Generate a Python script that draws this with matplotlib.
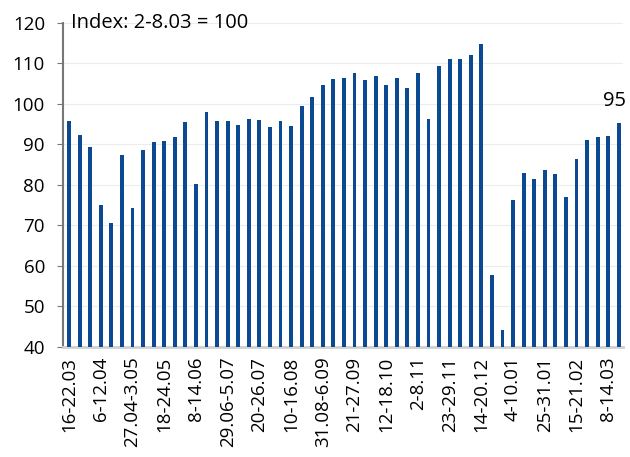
import matplotlib.pyplot as plt
import numpy as np

plt.rcParams['font.family'] = ['Open Sans', 'DejaVu Sans']

# weekly index, 2-8.03 = 100
weeks = [
    "16-22.03", "23-29.03", "30.03-5.04", "6-12.04", "13-19.04", "20-26.04",
    "27.04-3.05", "4-10.05", "11-17.05", "18-24.05", "25-31.05", "1-7.06",
    "8-14.06", "15-21.06", "22-28.06", "29.06-5.07", "6-12.07", "13-19.07",
    "20-26.07", "27.07-2.08", "3-9.08", "10-16.08", "17-23.08", "24-30.08",
    "31.08-6.09", "7-13.09", "14-20.09", "21-27.09", "28.09-4.10", "5-11.10",
    "12-18.10", "19-25.10", "26.10-1.11", "2-8.11", "9-15.11", "16-22.11",
    "23-29.11", "30.11-6.12", "7-13.12", "14-20.12", "21-27.12", "28.12-3.01",
    "4-10.01", "11-17.01", "18-24.01", "25-31.01", "1-7.02", "8-14.02",
    "15-21.02", "22-28.02", "1-7.03", "8-14.03", "15-21.03",
]
index_values = [
    95.7, 92.4, 89.3, 75.1, 70.7, 87.5, 74.2, 88.7, 90.6, 90.9,
    91.8, 95.5, 80.2, 97.9, 95.9, 95.9, 94.8, 96.3, 96.1, 94.4,
    95.9, 94.6, 99.5, 101.8, 104.6, 106.1, 106.5, 107.7, 105.8, 106.8,
    104.7, 106.4, 103.9, 107.7, 96.2, 109.3, 111.1, 111.1, 112.2, 114.7,
    57.7, 44.3, 76.2, 83.0, 81.5, 83.7, 82.7, 77.1, 86.5, 91.2,
    91.8, 92.1, 95.3,
]

fig = plt.figure(figsize=(6.3, 4.57), dpi=100)
ax = fig.add_axes([0.1, 0.2407, 0.889, 0.709])

x = np.arange(len(weeks))
ax.bar(x, index_values, width=0.36, color="#0b4a92", zorder=3)

ax.set_xlim(-0.57, len(weeks) - 0.6)
ax.set_ylim(40, 120)
ax.set_yticks(range(40, 121, 10))
ax.yaxis.grid(True, color="#ececec", linewidth=0.8, zorder=0)

ax.set_xticks(x[::3])
ax.set_xticklabels(weeks[::3], rotation=90)
ax.tick_params(axis="x", length=0, pad=7, labelsize=13.5)
ax.tick_params(axis="y", length=4, color="#777777", labelsize=13.5, pad=9)

for s in ["top", "right"]:
    ax.spines[s].set_visible(False)
ax.spines["left"].set_color("#777777")
ax.spines["left"].set_linewidth(1.5)
ax.spines["bottom"].set_color("#d0d0d0")
ax.spines["bottom"].set_linewidth(2)

ax.text(0.014, 1.0, "Index: 2-8.03 = 100", transform=ax.transAxes,
        fontsize=14.5, va="center", ha="left")
ax.text(x[-1] - 0.4, index_values[-1] + 3, "95", fontsize=14.5,
        ha="center", va="bottom")

fig.savefig("out.png", dpi=100)
